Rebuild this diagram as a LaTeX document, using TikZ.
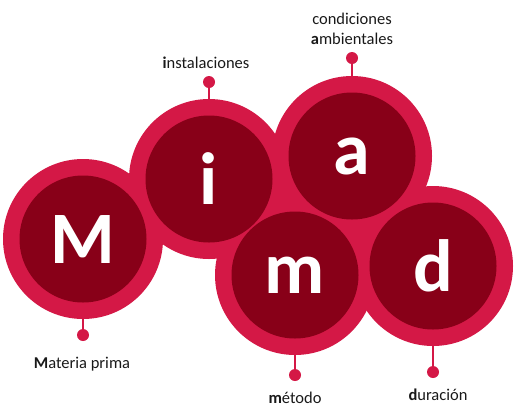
\documentclass[tikz,border=0pt]{standalone}
\usepackage{fontspec}
\setmainfont{Carlito}
\definecolor{ringred}{RGB}{212,24,70}
\definecolor{corered}{RGB}{136,0,24}
\begin{document}
\begin{tikzpicture}[x=1pt,y=-1pt]
	\tikzset{ring/.style = {shape=circle,fill=ringred,minimum size=160pt,inner sep=0pt}}
	\tikzset{core/.style = {shape=circle,fill=corered,minimum size=127pt,inner sep=0pt,text=white,font=\fontsize{74}{74}\selectfont\bfseries}}
	\tikzset{knob/.style = {shape=circle,fill=ringred,minimum size=12pt,inner sep=0pt}}
	\tikzset{stem/.style = {draw=ringred,line width=2.2pt}}
	\tikzset{caption/.style = {font=\fontsize{16.5}{20}\selectfont,text=black!90,align=center}}
	\useasboundingbox (0,0) rectangle (516,416);
	% outer rings
	\node[ring] (Mring) at (83,239) {};
	\node[ring] (iring) at (209,179) {};
	\node[ring] (aring) at (352,156) {};
	\node[ring] (mring) at (295,275) {};
	\node[ring] (dring) at (433,266) {};
	% inner discs with the letters
	\node[core] (Mcore) at (Mring) {M};
	\node[core] (icore) at (iring) {i};
	\node[core] (acore) at (aring) {a};
	\node[core] (mcore) at (mring) {m};
	\node[core] (dcore) at (dring) {d};
	% knobs
	\node[knob] (Mknob) at (83,335) {};
	\node[knob] (iknob) at (209,82) {};
	\node[knob] (aknob) at (352,58) {};
	\node[knob] (mknob) at (295,375) {};
	\node[knob] (dknob) at (433,372) {};
	\draw[stem] (Mring.south) -- (Mknob);
	\draw[stem] (iring.north) -- (iknob);
	\draw[stem] (aring.north) -- (aknob);
	\draw[stem] (mring.south) -- (mknob);
	\draw[stem] (dring.south) -- (dknob);
	% captions
	\node[caption] (Mtext) at (82,364) {\textbf{M}ateria prima};
	\node[caption] (itext) at (206,63) {\textbf{i}nstalaciones};
	\node[caption] (atext) at (352,29) {condiciones\\\textbf{a}mbientales};
	\node[caption] (mtext) at (295,398) {\textbf{m}étodo};
	\node[caption] (dtext) at (438,395) {\textbf{d}uración};
\end{tikzpicture}
\end{document}
